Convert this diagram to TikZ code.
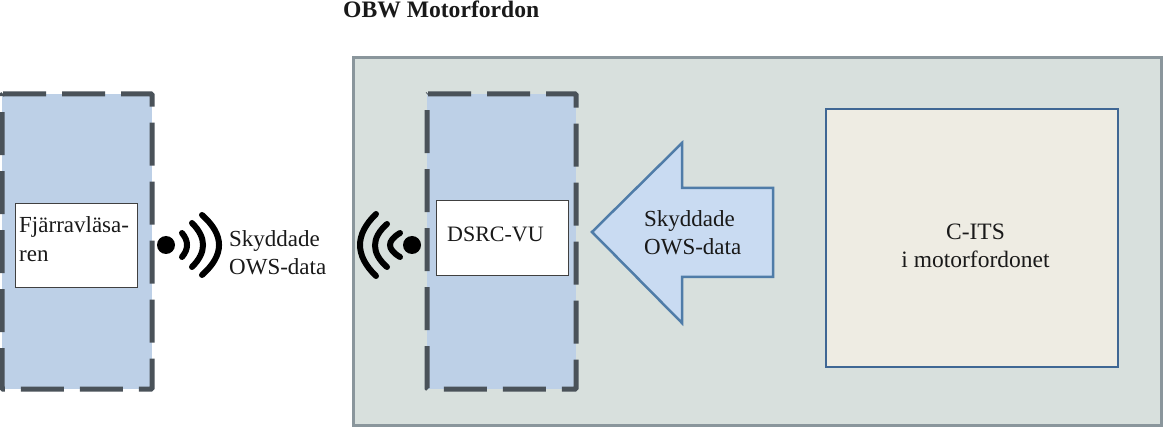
\documentclass[tikz,border=0pt]{standalone}
\usepackage{fontspec}
\setmainfont{Liberation Serif}
\definecolor{bluefill}{HTML}{BDD0E7}
\definecolor{dashgray}{HTML}{4A5259}
\definecolor{outerfill}{HTML}{D8E0DD}
\definecolor{outerline}{HTML}{8A969C}
\definecolor{arrowfill}{HTML}{C9DBF2}
\definecolor{arrowline}{HTML}{4F7CA8}
\definecolor{citsfill}{HTML}{EEECE3}
\definecolor{citsline}{HTML}{3F6794}
\tikzset{
  x=1pt,y=-1pt,
  txt/.style={font=\fontsize{23}{28}\selectfont,inner sep=0pt,align=left,text=black!90},
  whitebox/.style={draw=black!50!gray,line width=1pt,fill=white},
  dashbox/.style={draw=dashgray,line width=5pt,dash pattern=on 43pt off 16pt,rounded corners=1pt},
  bluebox/.style={fill=bluefill},
  wave/.style={draw=black,line width=6pt,line cap=round},
  dot/.style={circle,fill=black,minimum size=18pt,inner sep=0pt},
}
\begin{document}
\begin{tikzpicture}
\useasboundingbox (0,0) rectangle (1164,427);
% outer
\node[txt,font=\fontsize{23.6}{28}\selectfont\bfseries,anchor=base west] (title) at (343,18) {OBW Motorfordon};
\filldraw[fill=outerfill,draw=outerline,line width=3pt] (353,57.5) rectangle (1161,425);
% left box
\fill[bluebox] (2,94) rectangle (152,389);
\draw[dashbox] (2,94) -- (152,94) -- (152,389) -- (2,389) -- cycle;
\node[whitebox,minimum width=122pt,minimum height=84pt,inner sep=0pt] (reader) at (76,246) {};
\node[txt,anchor=base west] (readertext) at (19,233) {Fjärravläsa-};
\node[txt,anchor=base west] (readertext2) at (19,262) {ren};
% right box
\fill[bluebox] (427,94) rectangle (576,389);
\draw[dashbox] (427,94) -- (576,94) -- (576,389) -- (427,389) -- cycle;
\node[whitebox,minimum width=132pt,minimum height=75pt,inner sep=0pt] (dsrc) at (502,238.5) {};
\node[txt,font=\fontsize{22}{28}\selectfont,anchor=base west] (dsrctext) at (447,242) {DSRC-VU};
% arrow
\filldraw[fill=arrowfill,draw=arrowline,line width=2.5pt,miter limit=10] (592,232) -- (682,143) -- (682,188) -- (773,188) -- (773,277) -- (682,277) -- (682,323) -- cycle;
\node[txt,anchor=base west] (a1) at (644,227) {Skyddade};
\node[txt,anchor=base west] (a2) at (644,255) {OWS-data};
% C-ITS
\node[draw=citsline,fill=citsfill,line width=2pt,minimum width=292pt,minimum height=258pt,inner sep=0pt] (cits) at (972,238) {};
\node[txt,font=\fontsize{23.5}{28}\selectfont,anchor=base] (c1) at (975.5,240) {C-ITS};
\node[txt,font=\fontsize{23.5}{28}\selectfont,anchor=base] (c2) at (975.5,268) {i motorfordonet};
% left wifi
\node[dot] (d1) at (166,245) {};
\draw[wave] (182,233) .. controls (188.7,241) and (188.7,249) .. (182,257);
\draw[wave] (192,223) .. controls (206.7,237.7) and (206.7,252.3) .. (192,267);
\draw[wave] (202,215) .. controls (224.7,235) and (224.7,255) .. (202,275);
\node[txt,anchor=base west] (l1) at (229,247) {Skyddade};
\node[txt,anchor=base west] (l2) at (229,275) {OWS-data};
% right wifi
\node[dot] (d2) at (412,245) {};
\draw[wave] (400,233) .. controls (386.7,241) and (386.7,249) .. (400,257);
\draw[wave] (387,224) .. controls (371,238) and (371,253) .. (387,267);
\draw[wave] (376,214) .. controls (354.7,234.7) and (354.7,255.3) .. (376,276);
\end{tikzpicture}
\end{document}
